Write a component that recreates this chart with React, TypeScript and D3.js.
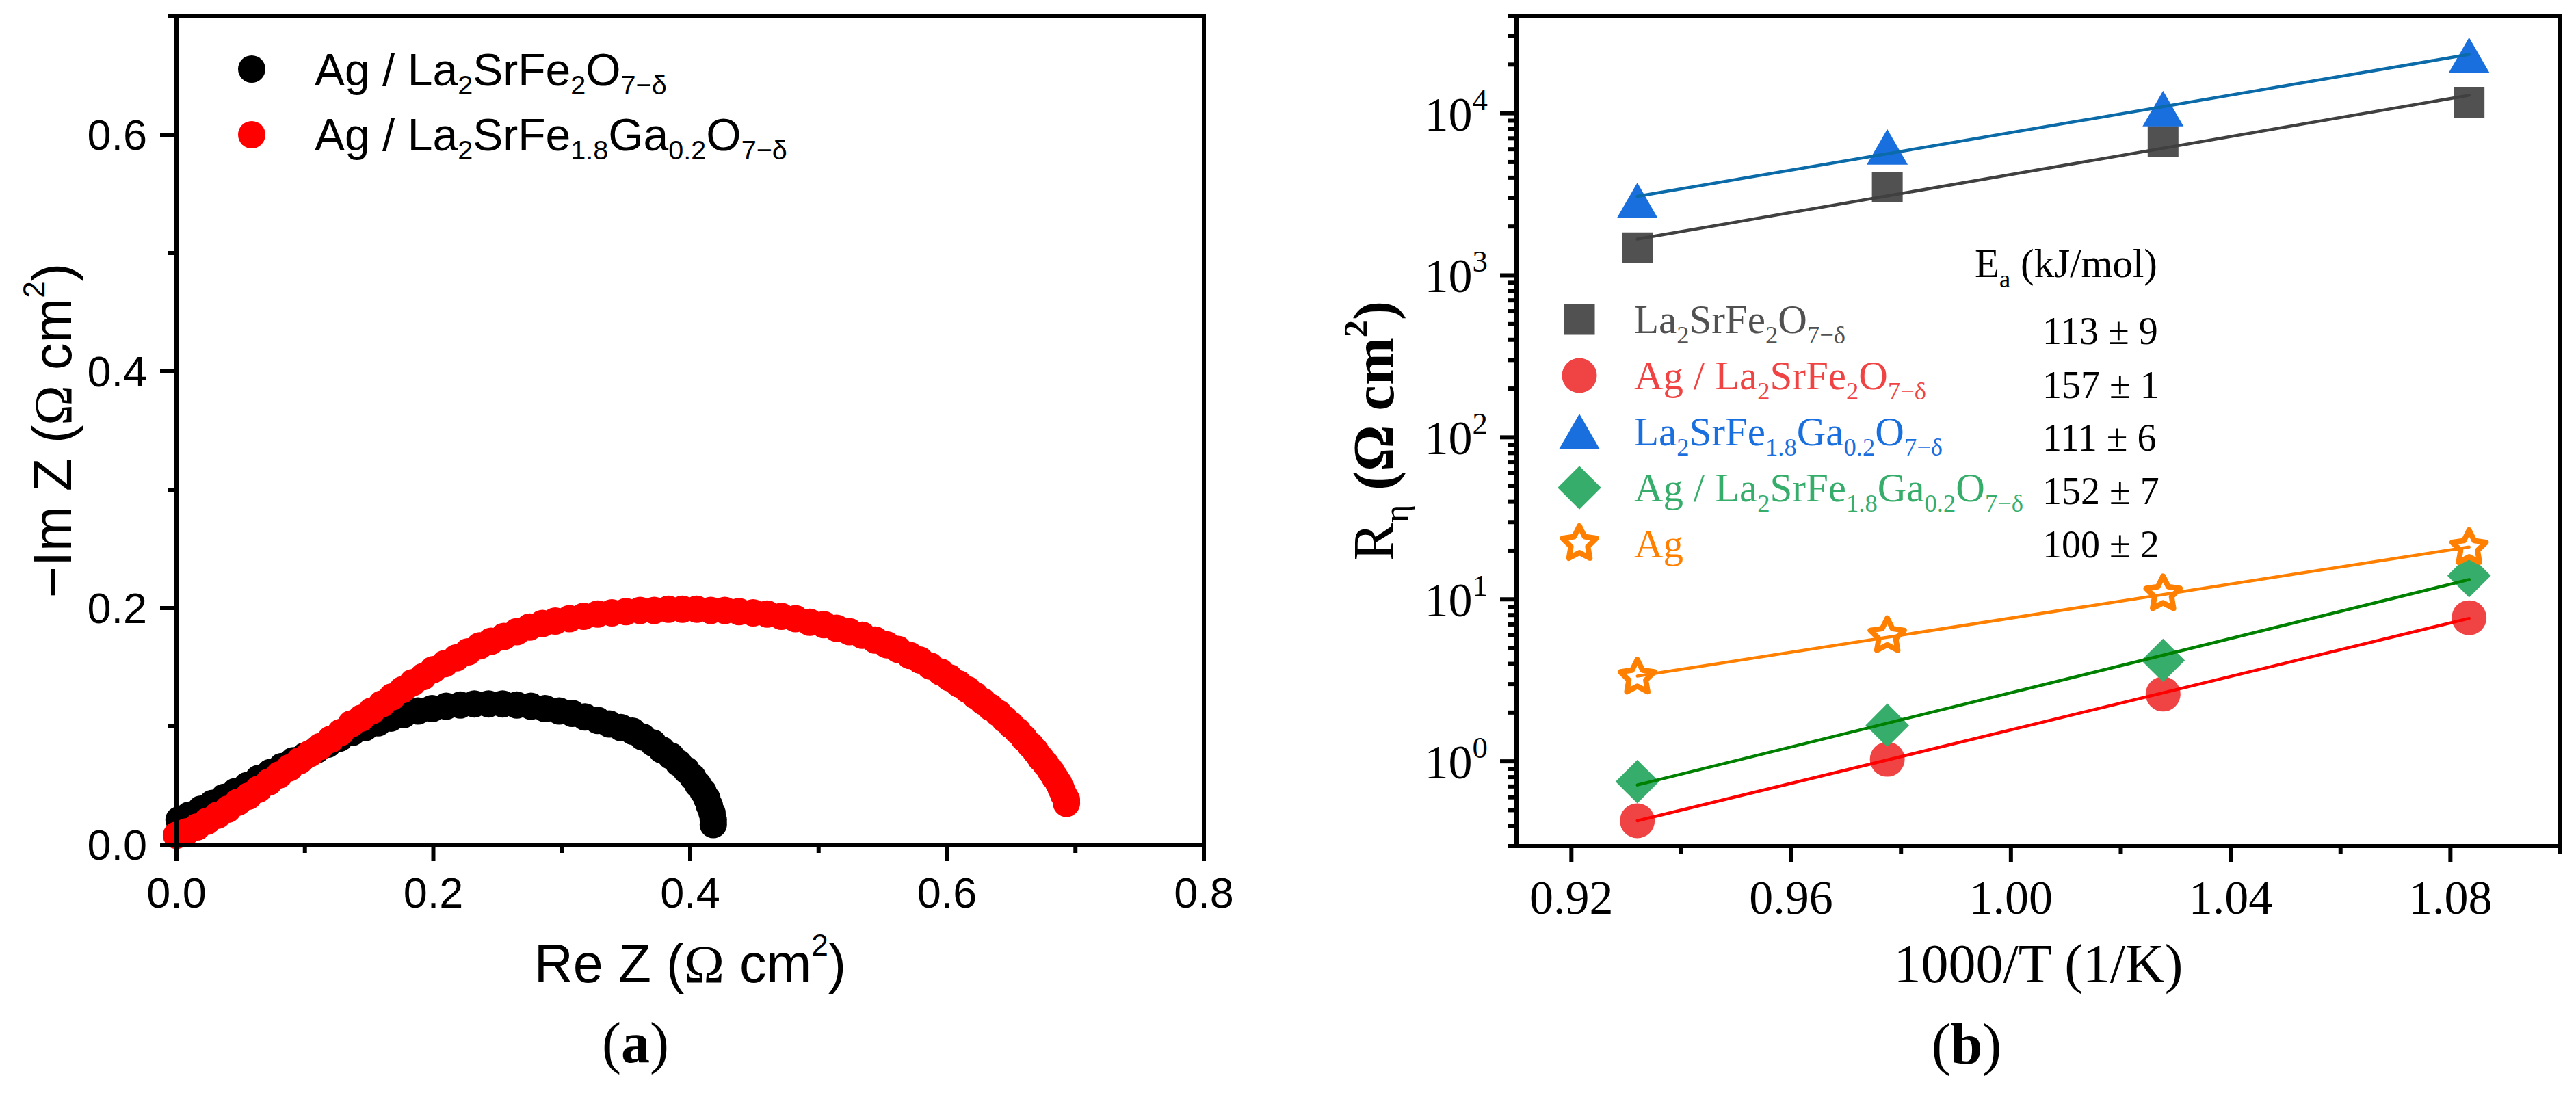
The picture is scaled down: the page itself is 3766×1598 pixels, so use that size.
import React from "react";
import * as d3 from "d3";

const SANS = "'Liberation Sans', Arial, sans-serif";
const SERIF = "'Liberation Serif', 'Times New Roman', serif";

// (a) Nyquist plots: [Re Z, -Im Z] in ohm cm2
const agLsfZ: [number, number][] = [
  [0.002, 0.021], [0.010, 0.025], [0.019, 0.030], [0.028, 0.035], [0.037, 0.040],
  [0.046, 0.045], [0.055, 0.050], [0.064, 0.056], [0.073, 0.061], [0.082, 0.066],
  [0.091, 0.071], [0.100, 0.075], [0.109, 0.080], [0.118, 0.085], [0.127, 0.090],
  [0.137, 0.095], [0.147, 0.099], [0.157, 0.103], [0.167, 0.107], [0.177, 0.110],
  [0.188, 0.113], [0.199, 0.115], [0.210, 0.117], [0.221, 0.118], [0.232, 0.119],
  [0.243, 0.119], [0.254, 0.119], [0.265, 0.118], [0.276, 0.117], [0.287, 0.115],
  [0.298, 0.113], [0.308, 0.111], [0.318, 0.108], [0.328, 0.105], [0.337, 0.102],
  [0.346, 0.099], [0.355, 0.096], [0.363, 0.091], [0.371, 0.086], [0.378, 0.080],
  [0.385, 0.075], [0.391, 0.069], [0.397, 0.063], [0.402, 0.057], [0.406, 0.051],
  [0.410, 0.045], [0.413, 0.039], [0.415, 0.033], [0.417, 0.027], [0.418, 0.021],
  [0.418, 0.017],
];

const agLsfgZ: [number, number][] = [
  [0.000, 0.008], [0.008, 0.011], [0.016, 0.015], [0.024, 0.020], [0.032, 0.025],
  [0.040, 0.030], [0.048, 0.036], [0.056, 0.041], [0.064, 0.047], [0.072, 0.053],
  [0.080, 0.059], [0.088, 0.065], [0.096, 0.071], [0.104, 0.077], [0.112, 0.083],
  [0.120, 0.089], [0.128, 0.095], [0.136, 0.102], [0.144, 0.107], [0.152, 0.113],
  [0.160, 0.119], [0.168, 0.125], [0.176, 0.131], [0.184, 0.137], [0.192, 0.142],
  [0.200, 0.148], [0.209, 0.153], [0.218, 0.158], [0.227, 0.163], [0.236, 0.168],
  [0.245, 0.172], [0.255, 0.176], [0.265, 0.180], [0.275, 0.184], [0.285, 0.187],
  [0.295, 0.189], [0.306, 0.191], [0.317, 0.193], [0.328, 0.195], [0.339, 0.196],
  [0.350, 0.197], [0.361, 0.198], [0.372, 0.198], [0.383, 0.199], [0.394, 0.199],
  [0.405, 0.199], [0.416, 0.198], [0.427, 0.198], [0.438, 0.197], [0.449, 0.196],
  [0.460, 0.195], [0.471, 0.193], [0.482, 0.191], [0.493, 0.188], [0.504, 0.186],
  [0.514, 0.183], [0.524, 0.180], [0.534, 0.177], [0.544, 0.173], [0.553, 0.169],
  [0.562, 0.165], [0.571, 0.160], [0.579, 0.156], [0.587, 0.151], [0.595, 0.146],
  [0.602, 0.141], [0.609, 0.136], [0.616, 0.131], [0.622, 0.126], [0.628, 0.121],
  [0.634, 0.116], [0.640, 0.111], [0.645, 0.106], [0.650, 0.101], [0.655, 0.096],
  [0.660, 0.090], [0.665, 0.084], [0.669, 0.079], [0.673, 0.073], [0.677, 0.068],
  [0.681, 0.062], [0.684, 0.057], [0.687, 0.052], [0.689, 0.047], [0.691, 0.042],
  [0.693, 0.038], [0.693, 0.035],
];

// (b) Arrhenius plot
const invTemp = [0.932, 0.9775, 1.0277, 1.0834];
const rLsf = [1480, 3500, 6700, 11700];
const rAgLsf = [0.43, 1.03, 2.6, 7.7];
const rLsfg = [2900, 6200, 10700, 22800];
const rAgLsfg = [0.75, 1.67, 4.2, 14];
const rAg = [3.3, 5.95, 10.8, 20.8];
const activation = ["113 ± 9", "157 ± 1", "111 ± 6", "152 ± 7", "100 ± 2"];

type Seg = { t: string; sub?: boolean; sup?: boolean; bold?: boolean; font?: string };

const LSF: Seg[] = [{ t: "La" }, { t: "2", sub: true }, { t: "SrFe" }, { t: "2", sub: true }, { t: "O" }, { t: "7−δ", sub: true }];
const LSFG: Seg[] = [
  { t: "La" }, { t: "2", sub: true }, { t: "SrFe" }, { t: "1.8", sub: true },
  { t: "Ga" }, { t: "0.2", sub: true }, { t: "O" }, { t: "7−δ", sub: true },
];
const AG: Seg[] = [{ t: "Ag / " }];

function Rich({ segs, size, scale = 0.6, subShift = 0.22, supShift = 0.45, ...rest }: any) {
  let cur = 0;
  return (
    <text fontSize={size} style={{ whiteSpace: "pre" }} {...rest}>
      {segs.map((s: Seg, i: number) => {
        const off = s.sub ? subShift * size : s.sup ? -supShift * size : 0;
        const dy = off - cur;
        cur = off;
        return (
          <tspan key={i} dy={dy || undefined} fontSize={s.sub || s.sup ? size * scale : undefined}
            fontWeight={s.bold ? "bold" : undefined} fontFamily={s.font}>
            {s.t}
          </tspan>
        );
      })}
    </text>
  );
}

function starPath(R: number, r: number) {
  const pts = d3.range(10).map((i) => {
    const a = -Math.PI / 2 + (i * Math.PI) / 5;
    const rad = i % 2 === 0 ? R : r;
    return [rad * Math.cos(a), rad * Math.sin(a)];
  });
  return "M" + pts.map((p) => p.join(",")).join("L") + "Z";
}

const SYMBOLS: Record<string, string> = {
  square: d3.symbol(d3.symbolSquare, 45 * 45)() as string,
  circle: d3.symbol(d3.symbolCircle, Math.PI * 25.5 * 25.5)() as string,
  triangle: d3.symbol(d3.symbolTriangle, 1560)() as string,
  diamond: d3.symbol(d3.symbolSquare, 45 * 45)() as string,
  star: starPath(26, 13),
};

function Marker({ kind, x, y, fill }: { kind: string; x: number; y: number; fill: string }) {
  if (kind === "star")
    return <path d={SYMBOLS.star} transform={`translate(${x},${y})`} fill="#fff" stroke={fill} strokeWidth={8} strokeLinejoin="round" />;
  const t = kind === "diamond" ? `translate(${x},${y}) rotate(45)` : kind === "triangle" ? `translate(${x},${y + 8.7})` : `translate(${x},${y})`;
  return <path d={SYMBOLS[kind]} transform={t} fill={fill} />;
}

function fit(xs: number[], ys: number[]) {
  const ly = ys.map(Math.log10);
  const mx = d3.mean(xs)!, my = d3.mean(ly)!;
  const sxy = d3.sum(xs, (x, i) => (x - mx) * (ly[i] - my));
  const sxx = d3.sum(xs, (x) => (x - mx) ** 2);
  const b = sxy / sxx;
  return (x: number) => Math.pow(10, my + b * (x - mx));
}

const seriesB = [
  { values: rLsf, kind: "square", fill: "#515151", line: "#404040", label: LSF },
  { values: rAgLsf, kind: "circle", fill: "#f04343", line: "#ff0000", label: [...AG, ...LSF] },
  { values: rLsfg, kind: "triangle", fill: "#1a6fdf", line: "#0b6aa8", label: LSFG },
  { values: rAgLsfg, kind: "diamond", fill: "#37ad6b", line: "#008000", label: [...AG, ...LSFG] },
  { values: rAg, kind: "star", fill: "#ff8000", line: "#ff8000", label: [{ t: "Ag" }] },
];

export default function App() {
  // panel (a)
  const xA = d3.scaleLinear().domain([0, 0.8]).range([258, 1760]);
  const yA = d3.scaleLinear().domain([0, 0.7]).range([1235, 24]);
  const xTicksA = d3.range(9).map((i) => i / 10);
  const yTicksA = d3.range(8).map((i) => i / 10);

  // panel (b)
  const xB = d3.scaleLinear().domain([0.91, 1.1]).range([2217, 3743]);
  const yB = d3.scaleLog().domain([0.3, 40000]).range([1237, 23]);
  const xTicksB = xB.ticks(10);
  const yTicksB = yB.ticks();
  const isPow10 = (v: number) => Math.abs(Math.log10(v) - Math.round(Math.log10(v))) < 1e-9;

  const TW = 6;
  const legendRows = [467, 549, 631, 713, 795];
  const valueBaselines = [503, 582, 659, 737, 815];

  return (
    <svg width={3766} height={1598} style={{ position: "absolute", left: 0, top: 0, background: "#fff" }}>
      {/* ---------- (a) ---------- */}
      <g>
        {agLsfZ.map((d, i) => <circle key={"k" + i} cx={xA(d[0])} cy={yA(d[1])} r={20} fill="#000" />)}
        {agLsfgZ.map((d, i) => <circle key={"r" + i} cx={xA(d[0])} cy={yA(d[1])} r={20} fill="#ff0000" />)}

        <rect x={xA(0)} y={yA(0.7)} width={xA(0.8) - xA(0)} height={yA(0) - yA(0.7)} fill="none" stroke="#000" strokeWidth={TW} />
        {xTicksA.map((v, i) => (
          <line key={"xa" + i} x1={xA(v)} x2={xA(v)} y1={yA(0)} y2={yA(0) + (i % 2 === 0 ? 24 : 12)} stroke="#000" strokeWidth={TW} />
        ))}
        {yTicksA.map((v, i) => (
          <line key={"ya" + i} x1={xA(0)} x2={xA(0) - (i % 2 === 0 ? 24 : 12)} y1={yA(v)} y2={yA(v)} stroke="#000" strokeWidth={TW} />
        ))}
        {xTicksA.filter((_, i) => i % 2 === 0).map((v) => (
          <text key={"xal" + v} x={xA(v)} y={1327} textAnchor="middle" fontFamily={SANS} fontSize={63}>{v.toFixed(1)}</text>
        ))}
        {yTicksA.filter((_, i) => i % 2 === 0).map((v) => (
          <text key={"yal" + v} x={215} y={yA(v) + 22} textAnchor="end" fontFamily={SANS} fontSize={63}>{v.toFixed(1)}</text>
        ))}

        <Rich segs={[{ t: "Re Z (" }, { t: "Ω", font: SERIF }, { t: " cm" }, { t: "2", sup: true }, { t: ")" }]}
          size={79} scale={0.56} supShift={0.49} x={(xA(0) + xA(0.8)) / 2} y={1436} textAnchor="middle" fontFamily={SANS} />
        <Rich segs={[{ t: "−Im Z (" }, { t: "Ω", font: SERIF }, { t: " cm" }, { t: "2", sup: true }, { t: ")" }]}
          size={79} scale={0.56} supShift={0.49} transform={`translate(104,${(yA(0) + yA(0.7)) / 2}) rotate(-90)`} textAnchor="middle" fontFamily={SANS} />

        <circle cx={368} cy={101} r={20} fill="#000" />
        <circle cx={368} cy={197} r={20} fill="#ff0000" />
        <Rich segs={[...AG, ...LSF]} size={66} scale={0.6} subShift={0.2} x={460} y={125} fontFamily={SANS} />
        <Rich segs={[...AG, ...LSFG]} size={66} scale={0.6} subShift={0.2} x={460} y={220} fontFamily={SANS} />

        <Rich segs={[{ t: "(" }, { t: "a", bold: true }, { t: ")" }]} size={84} x={929} y={1553} textAnchor="middle" fontFamily={SERIF} />
      </g>

      {/* ---------- (b) ---------- */}
      <g fontFamily={SERIF}>
        {seriesB.map((s) =>
          s.values.map((v, i) => <Marker key={s.kind + i} kind={s.kind} x={xB(invTemp[i])} y={yB(v)} fill={s.fill} />)
        )}
        {seriesB.map((s) => {
          const f = fit(invTemp, s.values);
          const x0 = invTemp[0], x1 = invTemp[invTemp.length - 1];
          return <line key={"fit" + s.kind} x1={xB(x0)} y1={yB(f(x0))} x2={xB(x1)} y2={yB(f(x1))} stroke={s.line} strokeWidth={4.5} strokeLinecap="round" />;
        })}

        <rect x={xB(0.91)} y={yB(40000)} width={xB(1.1) - xB(0.91)} height={yB(0.3) - yB(40000)} fill="none" stroke="#000" strokeWidth={TW} />
        {xTicksB.map((v) => {
          const major = Math.round(v * 100) % 4 === 0;
          return <line key={"xb" + v} x1={xB(v)} x2={xB(v)} y1={yB(0.3)} y2={yB(0.3) + (major ? 24 : 12)} stroke="#000" strokeWidth={TW} />;
        })}
        {yTicksB.map((v) => (
          <line key={"yb" + v} x1={xB(0.91)} x2={xB(0.91) - (isPow10(v) ? 24 : 12)} y1={yB(v)} y2={yB(v)} stroke="#000" strokeWidth={TW} />
        ))}
        {xTicksB.filter((v) => Math.round(v * 100) % 4 === 0).map((v) => (
          <text key={"xbl" + v} x={xB(v)} y={1336} textAnchor="middle" fontSize={70}>{d3.format(".2f")(v)}</text>
        ))}
        {yTicksB.filter(isPow10).map((v) => (
          <Rich key={"ybl" + v} segs={[{ t: "10" }, { t: String(Math.round(Math.log10(v))), sup: true }]}
            size={70} scale={0.64} supShift={0.43} x={2175} y={yB(v) + 25} textAnchor="end" />
        ))}

        <text x={(xB(0.91) + xB(1.1)) / 2} y={1436} textAnchor="middle" fontSize={80}>1000/T (1/K)</text>
        <Rich segs={[{ t: "R" }, { t: "η", sub: true }, { t: " " }, { t: "(Ω cm", bold: true }, { t: "2", sup: true, bold: true }, { t: ")", bold: true }]}
          size={84} scale={0.6} subShift={0.25} supShift={0.45} transform={`translate(2037,${(yB(0.3) + yB(40000)) / 2}) rotate(-90)`} textAnchor="middle" />

        <Rich segs={[{ t: "E" }, { t: "a", sub: true }, { t: " (kJ/mol)" }]} size={59} scale={0.62} subShift={0.25} x={2887} y={405} />
        {seriesB.map((s, i) => (
          <g key={"leg" + s.kind}>
            <Marker kind={s.kind} x={2309} y={legendRows[i]} fill={s.fill} />
            <Rich segs={s.label} size={59} scale={0.62} subShift={0.26} x={2389} y={legendRows[i] + 20} fill={s.fill} />
            <text x={2986} y={valueBaselines[i]} fontSize={56}>{activation[i]}</text>
          </g>
        ))}

        <Rich segs={[{ t: "(" }, { t: "b", bold: true }, { t: ")" }]} size={84} x={2875} y={1555} textAnchor="middle" />
      </g>
    </svg>
  );
}
